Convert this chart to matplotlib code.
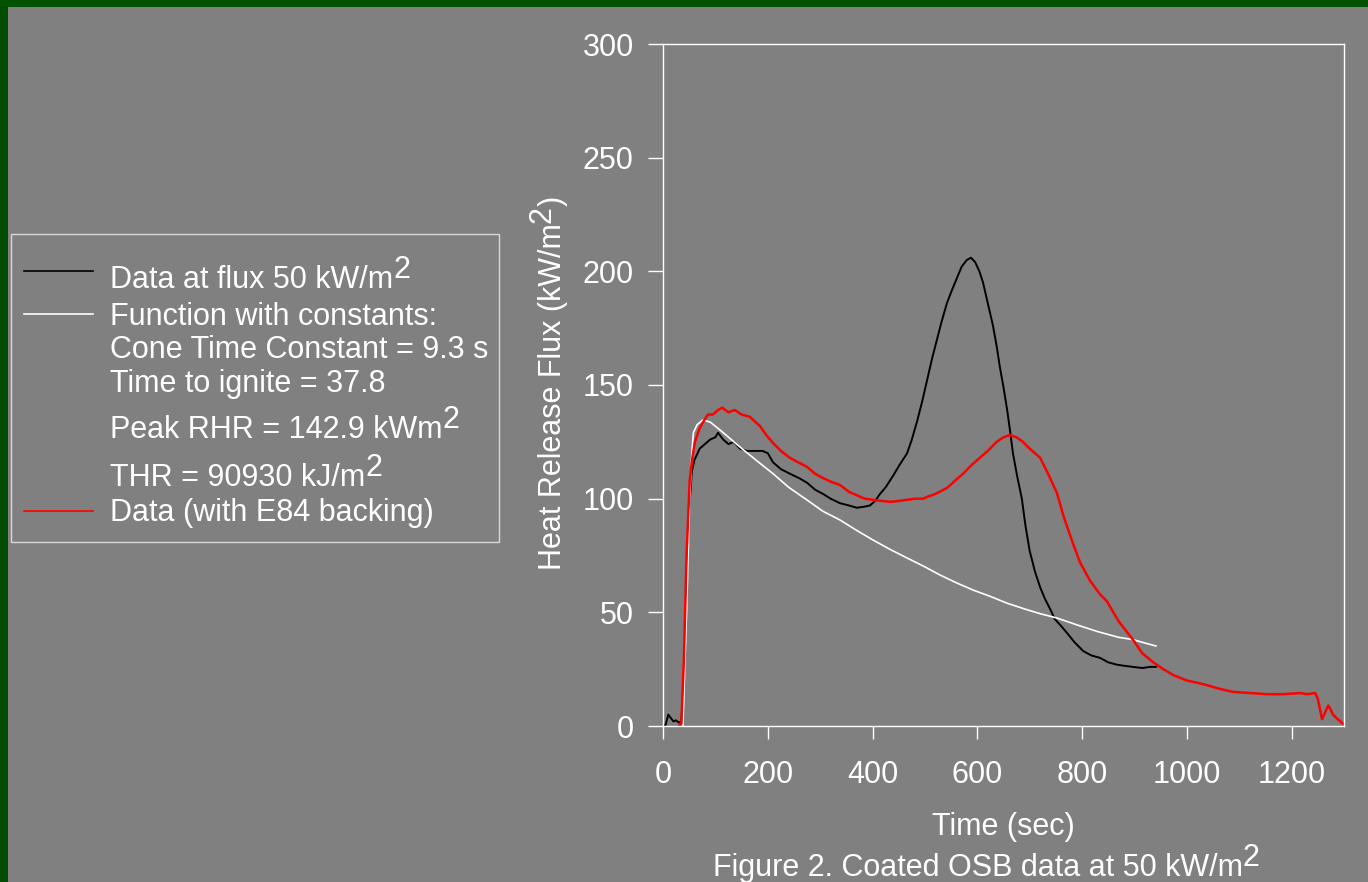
import matplotlib
matplotlib.use('Agg')
import matplotlib.pyplot as plt
from matplotlib.patches import Rectangle
from matplotlib.lines import Line2D
from matplotlib.text import Annotation

# Arial-like font everywhere
plt.rcParams['font.family'] = ['Liberation Sans', 'DejaVu Sans']

# data: time (sec), heat release flux (kW/m2)
t_data = [0, 5, 10, 15, 20, 25, 30, 35, 40, 45, 50, 55, 60, 70, 80, 90, 100, 105,
          115, 125, 135, 147, 160, 179, 190, 200, 210, 225, 242, 260, 275, 290,
          306, 320, 338, 355, 370, 385, 395, 405, 414, 425, 439, 452, 466, 475,
          485, 495, 504, 514, 523, 532, 542, 552, 561, 570, 580, 588, 596, 604,
          611, 620, 630, 637, 643, 650, 657, 663, 668, 676, 685, 692, 700, 710,
          720, 729, 740, 748, 760, 771, 785, 802, 818, 834, 850, 866, 880, 897,
          915, 930, 941]
q_data = [0, 0.5, 5, 3.5, 2, 2.5, 1.5, 2, 20, 60, 95, 112, 117, 122, 124, 126,
          127, 129, 126, 124, 125, 122, 121, 121, 121, 120, 116, 113, 111, 109,
          107, 104, 102, 100, 98, 97, 96, 96.5, 97, 99, 102, 105, 110, 115, 120,
          126, 134, 143, 152, 162, 170, 178, 186, 192, 197, 202, 205, 206, 204,
          200, 195, 186, 176, 167, 158, 149, 139, 129, 120, 110, 100, 88, 77, 68,
          61, 56, 51, 47, 44, 41, 37, 33, 31, 30, 28, 27, 26.5, 26, 25.5, 26, 26]

t_func = [38, 45, 51, 55, 58, 65, 76, 90, 110, 147, 180, 210, 240, 275, 305,
          338, 370, 401, 435, 466, 500, 529, 560, 592, 625, 657, 690, 720, 752,
          790, 830, 870, 897, 920, 941]
q_func = [0, 50, 100, 120, 129, 132.5, 134.6, 133.7, 130, 122.7, 116.5, 111,
          105, 99.4, 94.5, 90.6, 86, 81.8, 77.5, 73.9, 70, 66.4, 63, 59.8, 57,
          54, 51.5, 49.4, 47.5, 44.5, 41.5, 39, 38, 36.5, 35.2]

t_e84 = [30, 35, 40, 45, 51, 56, 61, 70, 80, 86, 95, 105, 113, 125, 137, 150,
         166, 175, 185, 197, 210, 225, 242, 258, 275, 290, 306, 320, 338, 355,
         370, 385, 401, 418, 434, 450, 466, 482, 497, 506, 515, 528, 542, 558,
         573, 590, 605, 620, 637, 650, 662, 675, 687, 700, 710, 720, 735, 752,
         765, 780, 796, 815, 834, 847, 870, 897, 915, 936, 955, 974, 1000, 1020,
         1038, 1060, 1088, 1120, 1152, 1185, 1216, 1230, 1245, 1250, 1258, 1264,
         1270, 1275, 1279, 1288, 1298]
q_e84 = [0, 1, 30, 75, 108, 118, 125, 131, 135, 137, 137, 139, 140, 138, 139,
         137, 136, 134, 132, 128, 124.5, 121, 118, 116, 114, 111, 109, 107.5,
         106, 103, 101.5, 100, 99.5, 99, 98.6, 99, 99.5, 100, 100, 101, 101.6,
         103, 104.7, 108, 111, 115, 118, 121, 125, 127, 128, 127, 125, 122, 120,
         118, 111, 102.5, 92, 82, 72, 64, 58, 55, 46, 38, 32, 28, 25, 22.4, 20,
         19, 18, 16.5, 15, 14.5, 14, 14, 14.5, 14, 14.5, 12, 3, 6, 9, 7, 5, 3, 1]

# legend text, second item is the superscript after the line (if any)
legend_lines = [('Data at flux 50 kW/m', '2'),
                ('Function with constants:', ''),
                ('Cone Time Constant = 9.3 s', ''),
                ('Time to ignite = 37.8', ''),
                ('Peak RHR = 142.9 kWm', '2'),
                ('THR = 90930 kJ/m', '2'),
                ('Data (with E84 backing)', '')]

W, H = 1368, 882
FS = 22
RAISE = 7.2   # superscript lift in points

fig = plt.figure(figsize=(W / 100, H / 100), dpi=100, facecolor='#808080')


def sup(parent, s, dx=0, dy=RAISE, **kw):
    # full size "superscript" glued to the right end of another text
    a = Annotation(s, xy=(1, 0), xycoords=parent, xytext=(dx, dy),
                   textcoords='offset points', ha='left', va='bottom',
                   color='white', fontsize=FS, **kw)
    fig.add_artist(a)
    return a


# green slide border on top and left
fig.patches.append(Rectangle((0, 0), 8 / W, 1, transform=fig.transFigure,
                             facecolor='#004c00', edgecolor='none'))
fig.patches.append(Rectangle((0, 1 - 7 / H), 1, 7 / H, transform=fig.transFigure,
                             facecolor='#005200', edgecolor='none'))

ax = fig.add_axes([663 / W, 1 - 726 / H, (1344 - 663) / W, (726 - 44) / H])
ax.set_facecolor('#808080')

ax.plot(t_data, q_data, color='black', lw=1.4)
ax.plot(t_func, q_func, color='white', lw=1.2)
ax.plot(t_e84, q_e84, color='red', lw=1.8)

ax.set_xlim(0, 1300)
ax.set_ylim(0, 300)
ax.set_xticks(range(0, 1201, 200))
ax.set_yticks(range(0, 301, 50))
for s in ax.spines.values():
    s.set_color('white')
    s.set_linewidth(1)
ax.tick_params(colors='white', labelsize=FS, direction='out', width=1)
ax.tick_params(axis='x', length=9.5, pad=15)
ax.tick_params(axis='y', length=11, pad=10)

ax.set_xlabel('Time (sec)', color='white', fontsize=FS, labelpad=16)

# y label built by hand so the 2 can be full size
ylab = fig.text(553 / W, 1 - 570 / H, 'Heat Release Flux (kW/m', rotation=90,
                ha='center', va='bottom', color='white', fontsize=FS)
two = Annotation('2', xy=(1, 1), xycoords=ylab, xytext=(-RAISE, 0),
                 textcoords='offset points', rotation=90, ha='right',
                 va='bottom', color='white', fontsize=FS)
fig.add_artist(two)
fig.add_artist(Annotation(')', xy=(1, 1), xycoords=two, xytext=(RAISE, 0),
                          textcoords='offset points', rotation=90, ha='right',
                          va='bottom', color='white', fontsize=FS))

cap = fig.text(713 / W, 1 - 876 / H, 'Figure 2. Coated OSB data at 50 kW/m',
               color='white', fontsize=FS, ha='left', va='baseline')
sup(cap, '2')

# hand built legend box on the left
fig.patches.append(Rectangle((11 / W, 1 - 542 / H), 488 / W, 308 / H,
                             transform=fig.transFigure, facecolor='none',
                             edgecolor='#d8d8d8', lw=1))
for y, c in [(271, 'black'), (314, 'white'), (511, 'red')]:
    fig.lines.append(Line2D([24 / W, 93 / W], [1 - y / H, 1 - y / H],
                            transform=fig.transFigure, color=c, lw=1.2))
baselines = [288, 325, 358, 392, 438, 486, 521]
for (txt, s), y in zip(legend_lines, baselines):
    t = fig.text(110 / W, 1 - y / H, txt, color='white', fontsize=FS,
                 ha='left', va='baseline')
    if s:
        sup(t, s)

plt.savefig('out.png', dpi=100, facecolor=fig.get_facecolor())
